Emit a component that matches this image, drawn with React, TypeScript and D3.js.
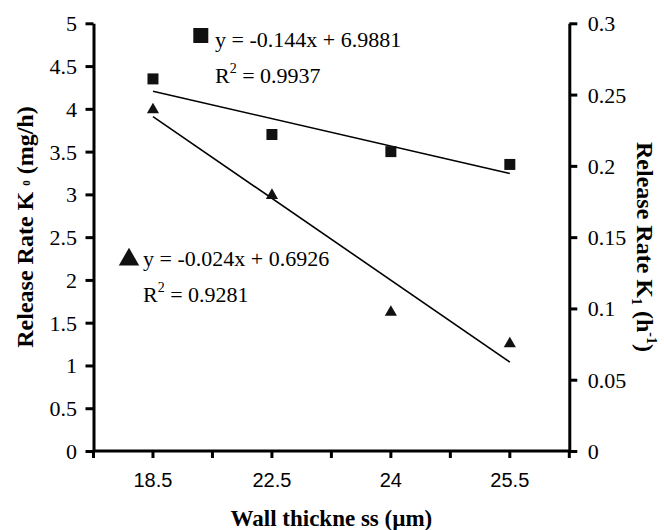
import React, { useEffect, useRef } from "react";
import * as d3 from "d3";

// wall thickness categories (µm)
const categories = ["18.5", "22.5", "24", "25.5"];
// K0 (left axis, mg/h) - squares
const k0Values = [4.35, 3.7, 3.5, 3.35];
// K1 (right axis, 1/h) - triangles
const k1Values = [0.24, 0.18, 0.098, 0.076];
const leftTicks = [0, 0.5, 1, 1.5, 2, 2.5, 3, 3.5, 4, 4.5, 5];
const rightTicks = [0, 0.05, 0.1, 0.15, 0.2, 0.25, 0.3];
const k0Equation = "y = -0.144x + 6.9881";
const k0R2 = "0.9937";
const k1Equation = "y = -0.024x + 0.6926";
const k1R2 = "0.9281";

const W = 664;
const H = 530;
const SERIF = "'Liberation Serif', 'Times New Roman', serif";
const SANS = "'Liberation Sans', Arial, sans-serif";

// least squares on category index 1..n (as Excel does for line charts)
const fit = (vals: number[]) => {
  const xs = vals.map((_, i) => i + 1);
  const mx = d3.mean(xs)!;
  const my = d3.mean(vals)!;
  const slope =
    d3.sum(xs, (x, i) => (x - mx) * (vals[i] - my)) /
    d3.sum(xs, (x) => (x - mx) * (x - mx));
  return (x: number) => my + slope * (x - mx);
};

const App = () => {
  const ref = useRef<SVGSVGElement>(null);

  useEffect(() => {
    const svg = d3.select(ref.current);
    svg.selectAll("*").remove();

    const left = 93.5, right = 569.3, top = 23.3, bottom = 451;

    const x = d3.scaleBand().domain(categories).range([left, right]).padding(0);
    const cx = (c: string) => x(c)! + x.bandwidth() / 2;
    const yL = d3.scaleLinear().domain([0, 5]).range([bottom, top]);
    const yR = d3.scaleLinear().domain([0, 0.3]).range([bottom, top]);

    // left axis
    const gl = svg.append("g").attr("transform", `translate(${left},0)`)
      .call(d3.axisLeft(yL).tickValues(leftTicks).tickSize(8).tickSizeOuter(0).tickPadding(8.5).tickFormat(d3.format("")));
    gl.selectAll("text").attr("font-family", SERIF).attr("font-size", 22).attr("fill", "#000").attr("dy", "0.34em");
    gl.selectAll("line,path").attr("stroke", "#000").attr("stroke-width", 3);

    // right axis
    const gr = svg.append("g").attr("transform", `translate(${right},0)`)
      .call(d3.axisRight(yR).tickValues(rightTicks).tickSize(8).tickSizeOuter(0).tickPadding(10.5).tickFormat(d3.format("")));
    gr.selectAll("text").attr("font-family", SERIF).attr("font-size", 22).attr("fill", "#000").attr("dy", "0.34em");
    gr.selectAll("line,path").attr("stroke", "#000").attr("stroke-width", 3);

    // bottom axis: ticks at band edges and centres
    const tickXs = [...categories.map((c) => x(c)!), right, ...categories.map(cx)];
    const gb = svg.append("g");
    gb.append("line").attr("x1", left).attr("x2", right).attr("y1", bottom).attr("y2", bottom)
      .attr("stroke", "#000").attr("stroke-width", 3);
    gb.selectAll("line.tick").data(tickXs).join("line").attr("class", "tick")
      .attr("x1", (d) => d).attr("x2", (d) => d).attr("y1", bottom).attr("y2", bottom + 7)
      .attr("stroke", "#000").attr("stroke-width", 3);
    gb.selectAll("text").data(categories).join("text")
      .attr("x", cx).attr("y", bottom + 36).attr("text-anchor", "middle")
      .attr("font-family", SANS).attr("font-size", 20).text((d) => d);

    // trend lines
    const line = d3.line<number>();
    const f0 = fit(k0Values);
    const f1 = fit(k1Values);
    const n = categories.length;
    svg.append("path")
      .attr("d", line([[cx(categories[0]), yL(f0(1))], [cx(categories[n - 1]), yL(f0(n))]] as any))
      .attr("stroke", "#000").attr("stroke-width", 1.6).attr("fill", "none");
    svg.append("path")
      .attr("d", line([[cx(categories[0]), yR(f1(1))], [cx(categories[n - 1]), yR(f1(n))]] as any))
      .attr("stroke", "#000").attr("stroke-width", 1.6).attr("fill", "none");

    // markers
    const sq = d3.symbol().type(d3.symbolSquare).size(121);
    const tri = d3.symbol().type(d3.symbolTriangle).size(64);
    svg.append("g").selectAll("path").data(k0Values).join("path")
      .attr("d", sq()).attr("fill", "#111")
      .attr("transform", (d, i) => `translate(${cx(categories[i])},${yL(d)})`);
    svg.append("g").selectAll("path").data(k1Values).join("path")
      .attr("d", tri()).attr("fill", "#111")
      .attr("transform", (d, i) => `translate(${cx(categories[i])},${yR(d) + 1})`);

    // equation labels
    const eq = (g: d3.Selection<SVGGElement, unknown, null, undefined>, ex: number, ey: number, eqText: string, r2: string) => {
      g.append("text").attr("x", ex).attr("y", ey).attr("font-family", SERIF).attr("font-size", 22).text(eqText);
      const t = g.append("text").attr("x", ex).attr("y", ey + 36).attr("font-family", SERIF).attr("font-size", 22);
      t.append("tspan").text("R");
      t.append("tspan").attr("font-size", 14).attr("dy", -10).text("2");
      t.append("tspan").attr("dy", 10).text(" = " + r2);
    };
    const a0 = svg.append("g");
    a0.append("path").attr("d", d3.symbol().type(d3.symbolSquare).size(225)()).attr("fill", "#111")
      .attr("transform", "translate(200.8,35.5)");
    eq(a0, 215, 47, k0Equation, k0R2);
    const a1 = svg.append("g");
    a1.append("path").attr("d", d3.symbol().type(d3.symbolTriangle).size(180)()).attr("fill", "#111")
      .attr("transform", "translate(129,259.5)");
    eq(a1, 143, 266, k1Equation, k1R2);

    // axis titles
    svg.append("text").attr("x", (left + right) / 2).attr("y", 526).attr("text-anchor", "middle")
      .attr("font-family", SERIF).attr("font-weight", "bold").attr("font-size", 23).text("Wall thickne ss (µm)");

    const tl = svg.append("text").attr("transform", "translate(33,227) rotate(-90)").attr("text-anchor", "middle")
      .attr("font-family", SERIF).attr("font-weight", "bold").attr("font-size", 24);
    tl.append("tspan").text("Release Rate K ");
    tl.append("tspan").attr("font-size", 11).attr("dy", -3).text("0");
    tl.append("tspan").attr("dy", 3).text(" (mg/h)");

    const tr = svg.append("text").attr("transform", "translate(637,247) rotate(90)").attr("text-anchor", "middle")
      .attr("font-family", SERIF).attr("font-weight", "bold").attr("font-size", 24);
    tr.append("tspan").text("Release Rate K");
    tr.append("tspan").attr("font-size", 14).attr("dy", 5).text("1");
    tr.append("tspan").attr("dy", -5).text(" (h");
    tr.append("tspan").attr("font-size", 14).attr("dy", -10).text("-1");
    tr.append("tspan").attr("dy", 10).text(")");
  }, []);

  return (
    <div style={{ position: "absolute", left: 0, top: 0 }}>
      <svg ref={ref} width={W} height={H} style={{ background: "#fff", display: "block" }} />
    </div>
  );
};

export default App;
